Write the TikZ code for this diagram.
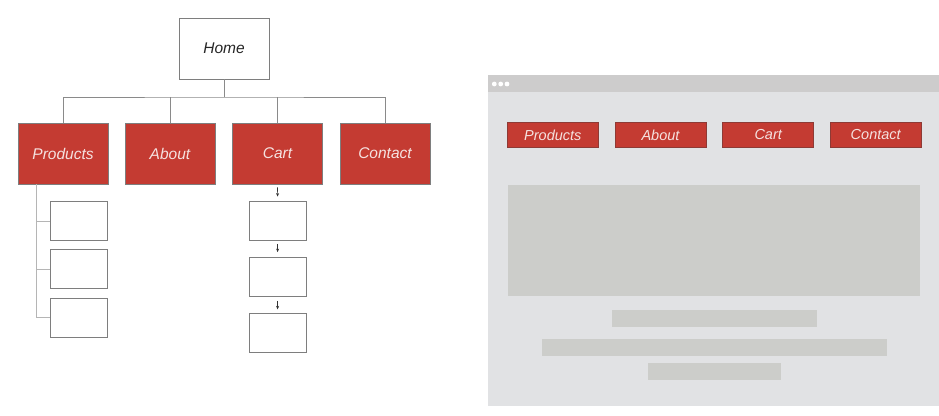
\documentclass[tikz,border=0pt]{standalone}
\usepackage{fontspec}
\setmainfont{Liberation Sans}
\usetikzlibrary{arrows.meta}
\definecolor{redbox}{HTML}{C43B32}
\definecolor{redborder}{HTML}{8E3A35}
\definecolor{linegray}{HTML}{8A8A8A}
\definecolor{lightline}{HTML}{B5B5B5}
\definecolor{boxgray}{HTML}{7E7E7E}
\definecolor{winbody}{HTML}{E1E2E4}
\definecolor{winbar}{HTML}{CDCCCC}
\definecolor{block}{HTML}{CCCDCA}
\definecolor{txtwhite}{HTML}{F5E2E0}
\tikzset{
  redpage/.style={draw=boxgray, line width=0.8pt, fill=redbox, text=txtwhite, inner sep=0pt,
    minimum width=90pt, minimum height=61pt, font=\fontsize{15.5}{17}\selectfont\itshape},
  homebox/.style={draw=boxgray, line width=0.8pt, fill=white, text=black!85, inner sep=0pt,
    minimum width=90pt, minimum height=61pt, font=\fontsize{15.5}{17}\selectfont\itshape},
  subbox/.style={draw=boxgray, line width=0.8pt, fill=white, inner sep=0pt,
    minimum width=57pt, minimum height=39pt},
  navbtn/.style={draw=redborder, line width=0.8pt, fill=redbox, text=txtwhite, inner sep=0pt,
    minimum width=91pt, minimum height=24.6pt, font=\fontsize{14.5}{16}\selectfont\itshape},
  tree/.style={draw=linegray, line width=0.8pt},
  lighttree/.style={draw=lightline, line width=0.8pt},
  smallarrow/.style={draw=black!80, line width=0.6pt, -{Stealth[length=3.5pt,width=3pt]}},
}
\begin{document}
\begin{tikzpicture}[x=1pt,y=-1pt]
\useasboundingbox[fill=white] (0,0) rectangle (939,415);

% ---------- Site map ----------
\node[homebox] (home) at (224,48.5) {Home};
\node[redpage] (products) at (63,153.5) {Products};
\node[redpage] (about) at (170,153.5) {About};
\node[redpage] (cart) at (277.5,153.5) {Cart};
\node[redpage] (contact) at (385,153.5) {Contact};

\coordinate (bus) at (224,97);
\draw[tree] (home.south) -- (bus);
\draw[tree] (products.north) |- (bus) -| (contact.north);
\draw[tree] (about.north) -- (about.north |- bus);
\draw[tree] (cart.north) -- (cart.north |- bus);

% products children
\node[subbox] (p1) at (79.3,221) {};
\node[subbox] (p2) at (79.3,269.2) {};
\node[subbox] (p3) at (79.3,317.5) {};
\coordinate (ptrunk) at (36,184);
\draw[lighttree] (ptrunk) -- (ptrunk |- p3.west) -- (p3.west);
\draw[lighttree] (ptrunk |- p1.west) -- (p1.west);
\draw[lighttree] (ptrunk |- p2.west) -- (p2.west);

% cart children
\node[subbox] (c1) at (277.6,221) {};
\node[subbox] (c2) at (277.6,276.5) {};
\node[subbox] (c3) at (277.6,332.8) {};
\draw[smallarrow] ([yshift=-3pt]cart.south) -- ([yshift=4.5pt]c1.north);
\draw[smallarrow] ([yshift=-3pt]c1.south) -- ([yshift=4.5pt]c2.north);
\draw[smallarrow] ([yshift=-4.5pt]c2.south) -- ([yshift=3.5pt]c3.north);

% ---------- Browser mock-up ----------
\fill[winbody] (488,92.3) rectangle (939,405.7);
\fill[winbar] (488,75) rectangle (939,92.3);
\foreach \cx in {494.3,500.7,507}
  \fill[white] (\cx,84) circle (2.4pt);

\node[navbtn] (nproducts) at (552.8,135) {Products};
\node[navbtn] (nabout) at (660.5,135) {About};
\node[navbtn] (ncart) at (768.2,135) {Cart};
\node[navbtn] (ncontact) at (875.7,135) {Contact};

\fill[block] (508.3,185) rectangle (920.3,296);
\fill[block] (612.3,310) rectangle (816.7,326.7);
\fill[block] (542.3,338.7) rectangle (887,355.7);
\fill[block] (648,362.7) rectangle (781,380);
\end{tikzpicture}
\end{document}
